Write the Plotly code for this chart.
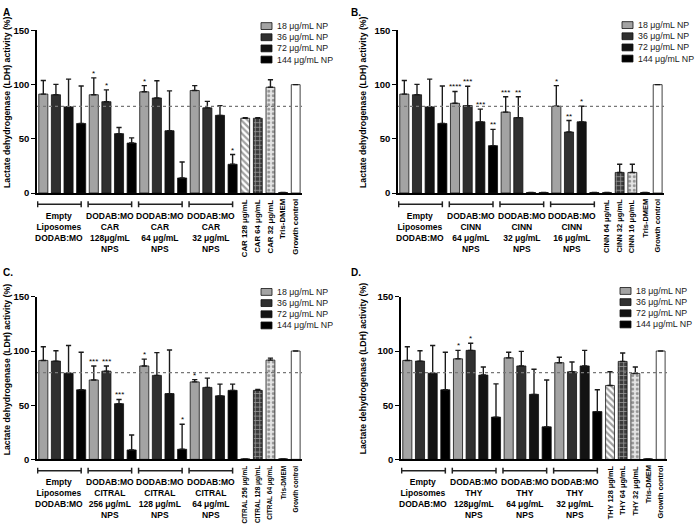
import plotly.graph_objects as go

W, H = 696, 529

# ---------------- data ----------------
series_names = ["18 μg/mL NP", "36 μg/mL NP", "72 μg/mL NP", "144 μg/mL NP"]
series_colors = ["#a3a3a3", "#303030", "#131313", "#000000"]

empty_mean = [91.3, 90.7, 79.5, 64.2]
empty_sd = [12.6, 9.6, 25.6, 34.6]
empty_stars = ["", "", "", ""]

# Panel A (carvacrol)
A_groups = ["Empty<br>Liposomes<br>DODAB:MO", "DODAB:MO<br>CAR<br>128μg/mL<br>NPS",
            "DODAB:MO<br>CAR<br>64 μg/mL<br>NPS", "DODAB:MO<br>CAR<br>32 μg/mL<br>NPS"]
A_g2_mean = [90.7, 84.3, 54.8, 46.1]
A_g2_sd = [15.6, 10.9, 5.7, 4.8]
A_g2_stars = ["*", "*", "", ""]
A_g3_mean = [93.4, 87.7, 57.5, 13.9]
A_g3_sd = [5.7, 15.9, 36.8, 14.7]
A_g3_stars = ["*", "", "", ""]
A_g4_mean = [94.6, 78.6, 71.7, 26.5]
A_g4_sd = [4.5, 6.0, 9.0, 9.0]
A_g4_stars = ["", "", "", "*"]
A_single_labels = ["CAR 128 μg/mL", "CAR 64 μg/mL", "CAR 32 μg/mL", "Tris-DMEM", "Growth control"]
A_single_mean = [69.0, 69.0, 97.6, 0.5, 100.0]
A_single_sd = [0.6, 0.5, 6.9, 0.0, 0.0]

# Panel B (cinnamaldehyde)
B_groups = ["Empty<br>Liposomes<br>DODAB:MO", "DODAB:MO<br>CINN<br>64 μg/mL<br>NPS",
            "DODAB:MO<br>CINN<br>32 μg/mL<br>NPS", "DODAB:MO<br>CINN<br>16 μg/mL<br>NPS"]
B_g2_mean = [82.8, 80.7, 65.7, 43.7]
B_g2_sd = [10.9, 17.8, 11.7, 15.0]
B_g2_stars = ["****", "***", "***", "**"]
B_g3_mean = [74.7, 69.6, 0.5, 0.5]
B_g3_sd = [14.2, 19.3, 0.0, 0.0]
B_g3_stars = ["***", "**", "", ""]
B_g4_mean = [80.1, 56.3, 65.7, 0.5]
B_g4_sd = [19.0, 10.6, 14.4, 0.0]
B_g4_stars = ["*", "**", "*", ""]
B_single_labels = ["CINN 64 μg/mL", "CINN 32 μg/mL", "CINN 16 μg/mL", "Tris-DMEM", "Growth control"]
B_single_mean = [0.5, 19.0, 19.0, 0.5, 100.0]
B_single_sd = [0.0, 7.5, 7.5, 0.0, 0.0]

# Panel C (citral)
C_groups = ["Empty<br>Liposomes<br>DODAB:MO", "DODAB:MO<br>CITRAL<br>256 μg/mL<br>NPS",
            "DODAB:MO<br>CITRAL<br>128 μg/mL<br>NPS", "DODAB:MO<br>CITRAL<br>64 μg/mL<br>NPS"]
C_g2_mean = [73.3, 81.4, 51.4, 8.7]
C_g2_sd = [12.9, 4.8, 3.9, 13.8]
C_g2_stars = ["***", "***", "***", ""]
C_g3_mean = [86.2, 77.5, 60.7, 9.3]
C_g3_sd = [6.3, 21.0, 40.2, 23.1]
C_g3_stars = ["*", "", "", "*"]
C_g4_mean = [71.5, 66.4, 58.6, 63.7]
C_g4_sd = [2.1, 8.6, 10.8, 5.7]
C_g4_stars = ["*", "", "", ""]
C_single_labels = ["CITRAL 256 μg/mL", "CITRAL 128 μg/mL", "CITRAL 64 μg/mL", "Tris-DMEM", "Growth control"]
C_single_mean = [0.5, 63.7, 91.6, 0.5, 100.0]
C_single_sd = [0.0, 0.9, 1.8, 0.0, 0.0]

# Panel D (thymol)
D_groups = ["Empty<br>Liposomes<br>DODAB:MO", "DODAB:MO<br>THY<br>128μg/mL<br>NPS",
            "DODAB:MO<br>THY<br>64 μg/mL<br>NPS", "DODAB:MO<br>THY<br>32 μg/mL<br>NPS"]
D_g2_mean = [92.8, 100.6, 77.8, 39.0]
D_g2_sd = [7.8, 6.6, 7.5, 30.7]
D_g2_stars = ["*", "*", "", ""]
D_g3_mean = [93.7, 86.2, 60.0, 30.0]
D_g3_sd = [5.1, 13.5, 23.2, 43.3]
D_g3_stars = ["", "", "", ""]
D_g4_mean = [89.2, 80.8, 86.2, 44.1]
D_g4_sd = [5.1, 9.0, 14.4, 20.2]
D_g4_stars = ["", "", "", ""]
D_single_labels = ["THY 128 μg/mL", "THY 64 μg/mL", "THY 32 μg/mL", "Tris-DMEM", "Growth control"]
D_single_mean = [68.2, 90.4, 79.3, 0.5, 100.0]
D_single_sd = [12.6, 7.8, 6.0, 0.0, 0.0]

y_ticks = [0, 50, 100, 150]
threshold = 80
y_title = "Lactate dehydrogenase (LDH) activity (%)"

# ---------------- layout helpers ----------------
FONT = "Liberation Sans, Arial, sans-serif"


def px(xp):
    return xp / W


def py(yp):
    return 1 - yp / H


panels = [
    dict(letter="A", groups=A_groups,
         means=[empty_mean, A_g2_mean, A_g3_mean, A_g4_mean],
         sds=[empty_sd, A_g2_sd, A_g3_sd, A_g4_sd],
         stars=[empty_stars, A_g2_stars, A_g3_stars, A_g4_stars],
         s_labels=A_single_labels, s_mean=A_single_mean, s_sd=A_single_sd, s_font=7.8,
         x0=37, x1=302, ytop=25, ybot=191, lx=1, ly=-1, tx=7, tyc=99, legx=261, legy=20.5),
    dict(letter="B.", groups=B_groups,
         means=[empty_mean, B_g2_mean, B_g3_mean, B_g4_mean],
         sds=[empty_sd, B_g2_sd, B_g3_sd, B_g4_sd],
         stars=[empty_stars, B_g2_stars, B_g3_stars, B_g4_stars],
         s_labels=B_single_labels, s_mean=B_single_mean, s_sd=B_single_sd, s_font=7.5,
         x0=398, x1=664, ytop=25, ybot=191, lx=349, ly=-1, tx=363, tyc=99, legx=622, legy=19.5),
    dict(letter="C.", groups=C_groups,
         means=[empty_mean, C_g2_mean, C_g3_mean, C_g4_mean],
         sds=[empty_sd, C_g2_sd, C_g3_sd, C_g4_sd],
         stars=[empty_stars, C_g2_stars, C_g3_stars, C_g4_stars],
         s_labels=C_single_labels, s_mean=C_single_mean, s_sd=C_single_sd, s_font=6.5,
         x0=37, x1=302, ytop=297, ybot=463, lx=1, ly=265, tx=7, tyc=372, legx=261, legy=292),
    dict(letter="D.", groups=D_groups,
         means=[empty_mean, D_g2_mean, D_g3_mean, D_g4_mean],
         sds=[empty_sd, D_g2_sd, D_g3_sd, D_g4_sd],
         stars=[empty_stars, D_g2_stars, D_g3_stars, D_g4_stars],
         s_labels=D_single_labels, s_mean=D_single_mean, s_sd=D_single_sd, s_font=7.4,
         x0=401, x1=667, ytop=297, ybot=463, lx=349, ly=265, tx=363, tyc=371, legx=620, legy=291),
]

single_fill = ["white", "#3c3c3c", "#e4e4e4", "black", "white"]
single_shape = ["\\", "+", ".", "", ""]
single_fg = ["black", "#f0f0f0", "#555555", "black", "black"]
single_solidity = [0.5, 0.3, 0.35, 0.3, 0.3]

fig = go.Figure()
shapes = []
annotations = []
layout_axes = {}
BW = 0.72

for pi, p in enumerate(panels):
    n = "" if pi == 0 else str(pi + 1)
    xa, ya = "x" + n, "y" + n
    # grouped bars: one trace per NP concentration
    for s in range(4):
        xs = [4 * g + s for g in range(len(p["groups"]))]
        ys = [p["means"][g][s] for g in range(len(p["groups"]))]
        es = [p["sds"][g][s] for g in range(len(p["groups"]))]
        fig.add_trace(go.Bar(
            x=xs, y=ys, width=BW, xaxis=xa, yaxis=ya, showlegend=False,
            name=series_names[s],
            marker=dict(color=series_colors[s], line=dict(color="#111", width=0.8)),
            error_y=dict(type="data", array=es, arrayminus=[0] * len(es), symmetric=False,
                         color="#1a1a1a", thickness=1.4, width=2.6),
        ))
        for g in range(len(p["groups"])):
            st = p["stars"][g][s]
            if st:
                annotations.append(dict(
                    x=4 * g + s, y=p["means"][g][s] + p["sds"][g][s], xref=xa, yref=ya,
                    text=st, showarrow=False, yanchor="bottom", yshift=-2,
                    font=dict(family=FONT, size=8, color="black")))
    # single bars
    xs_single = [16 + j for j in range(len(p["s_mean"]))]
    fig.add_trace(go.Bar(
        x=xs_single, y=p["s_mean"], width=0.7, xaxis=xa, yaxis=ya, showlegend=False,
        marker=dict(color=single_fill, line=dict(color="#111", width=0.8),
                    pattern=dict(shape=single_shape, fgcolor=single_fg, bgcolor=single_fill,
                                 size=4.5, solidity=single_solidity)),
        error_y=dict(type="data", array=p["s_sd"], arrayminus=[0] * 5, symmetric=False,
                     color="#1a1a1a", thickness=1.4, width=2.6),
    ))
    # axes
    layout_axes["xaxis" + n] = dict(
        domain=[px(p["x0"]), px(p["x1"])], range=[-0.5, 20.5], anchor=ya,
        showgrid=False, zeroline=False, showticklabels=False, ticks="",
        showline=True, linecolor="black", linewidth=1.5, fixedrange=True)
    layout_axes["yaxis" + n] = dict(
        domain=[py(p["ybot"]), py(p["ytop"])], range=[0, 150], anchor=xa,
        showgrid=False, zeroline=False, showline=True, linecolor="black", linewidth=1.5,
        ticks="outside", ticklen=4, tickwidth=1.3, tickcolor="black",
        tickvals=y_ticks, ticktext=["<b>%d</b>" % t for t in y_ticks],
        tickfont=dict(family=FONT, size=9.5, color="black"), fixedrange=True)
    # threshold dotted line
    shapes.append(dict(type="line", xref=xa + " domain", yref=ya, x0=0, x1=1,
                       y0=threshold, y1=threshold,
                       line=dict(color="#777", width=1.2, dash="dot")))
    # group brackets and labels
    yb = py(p["ybot"] + 11.5)
    for g, lab in enumerate(p["groups"]):
        gx0, gx1 = 4 * g - 0.45, 4 * g + 3.0
        shapes.append(dict(type="line", xref=xa, yref="paper", x0=gx0, x1=gx1, y0=yb, y1=yb,
                           line=dict(color="#222", width=1.5)))
        for ex in (gx0, gx1):
            shapes.append(dict(type="line", xref=xa, yref="paper", x0=ex, x1=ex,
                               y0=py(p["ybot"] + 8.5), y1=py(p["ybot"] + 14.5),
                               line=dict(color="#222", width=1.5)))
        annotations.append(dict(
            x=(gx0 + gx1) / 2, y=py(p["ybot"] + 16), xref=xa, yref="paper",
            text="<b>" + lab + "</b>", showarrow=False, xanchor="center", yanchor="top",
            align="center", font=dict(family=FONT, size=8.5, color="black")))
    # rotated single labels
    for j, lab in enumerate(p["s_labels"]):
        annotations.append(dict(
            x=16 + j, y=py(p["ybot"] + 4), xref=xa, yref="paper", text="<b>" + lab + "</b>",
            textangle=-90, showarrow=False, xanchor="center", yanchor="top",
            font=dict(family=FONT, size=p["s_font"], color="black")))
    # y-axis title
    annotations.append(dict(
        x=px(p["tx"]), y=py(p["tyc"]), xref="paper", yref="paper", text="<b>" + y_title + "</b>",
        textangle=-90, showarrow=False, xanchor="center", yanchor="middle",
        font=dict(family=FONT, size=8.7, color="black")))
    # panel letter
    annotations.append(dict(
        x=px(p["lx"]), y=py(p["ly"]), xref="paper", yref="paper", text="<b>" + p["letter"] + "</b>",
        showarrow=False, xanchor="left", yanchor="top",
        font=dict(family=FONT, size=10, color="black")))
    # manual legend
    for s in range(4):
        cy = p["legy"] + 11.4 * s
        shapes.append(dict(type="rect", xref="paper", yref="paper",
                           x0=px(p["legx"]), x1=px(p["legx"] + 11),
                           y0=py(cy + 3.5), y1=py(cy - 3.5),
                           fillcolor=series_colors[s], line=dict(color="#111", width=0.8)))
        annotations.append(dict(
            x=px(p["legx"] + 14), y=py(cy), xref="paper", yref="paper", text=series_names[s],
            showarrow=False, xanchor="left", yanchor="middle",
            font=dict(family=FONT, size=8.8, color="#1a1a1a")))

fig.update_layout(
    width=W, height=H, margin=dict(l=0, r=0, t=0, b=0),
    paper_bgcolor="white", plot_bgcolor="white", barmode="overlay",
    showlegend=False, shapes=shapes, annotations=annotations,
    font=dict(family=FONT), **layout_axes)

fig.write_html("out.html", config={"displayModeBar": False},
               post_script="document.body.style.margin='0px';document.body.style.overflow='hidden';")
